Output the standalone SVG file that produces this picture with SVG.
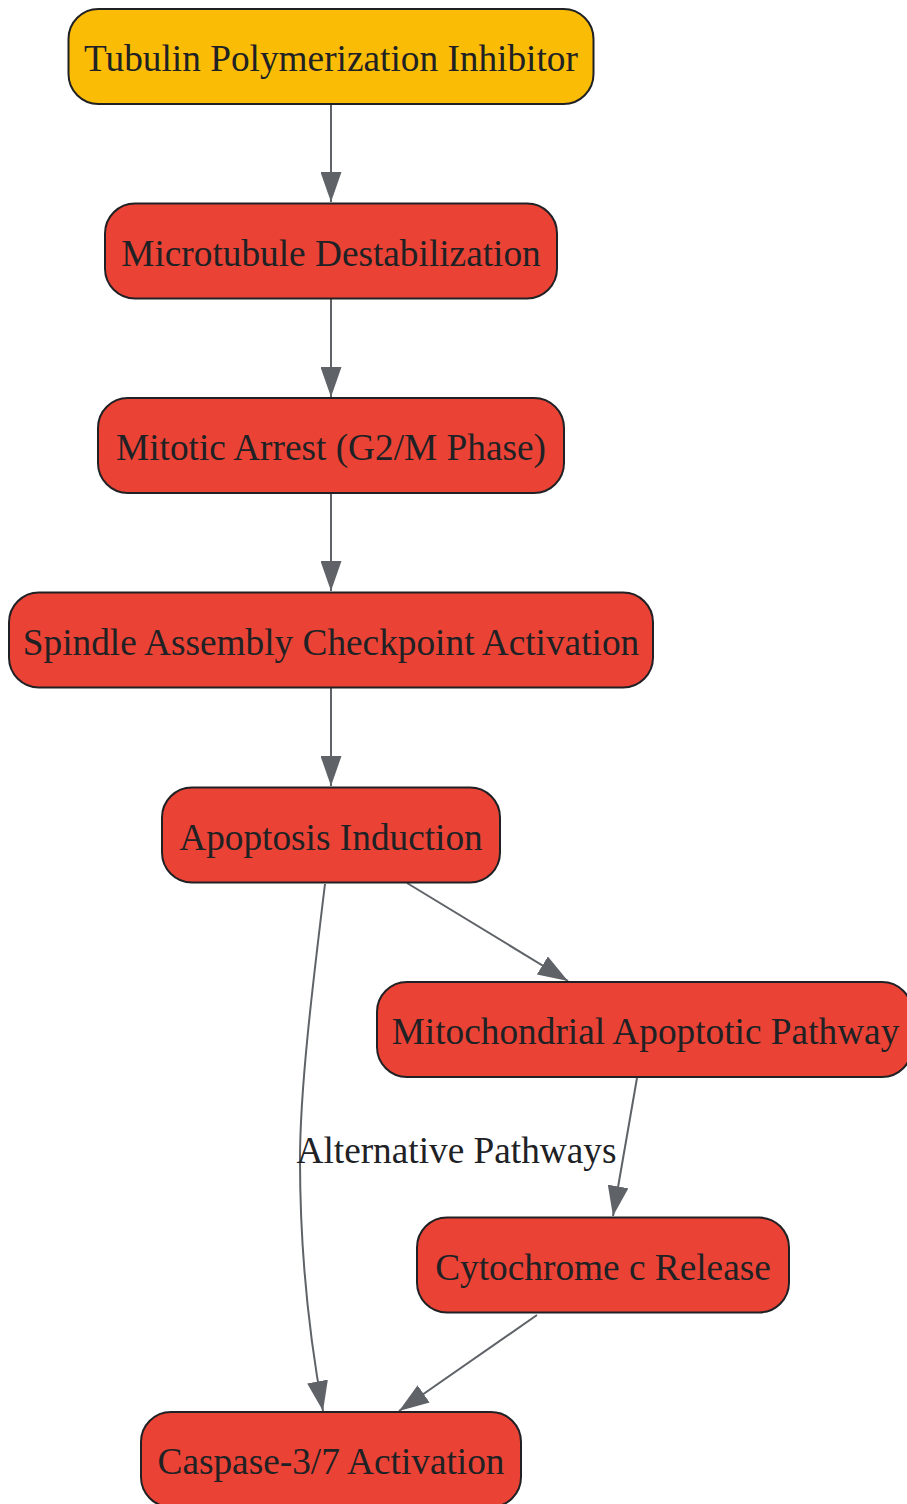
<svg xmlns="http://www.w3.org/2000/svg" width="907" height="1504" viewBox="0 0 907 1504">
<style>
.node rect{stroke:#202124;stroke-width:2}
.red rect{fill:#EA4335}
.yellow rect{fill:#FBBC05}
text{font-family:"Liberation Serif","Times New Roman",serif;font-size:37.3px;fill:#202124;text-anchor:middle}
.edge{fill:none;stroke:#5F6368;stroke-width:2;marker-end:url(#arr)}
</style>
<defs>
<marker id="arr" markerUnits="userSpaceOnUse" markerWidth="30" markerHeight="21" refX="30" refY="10.5" orient="auto">
<path d="M0,0 L30,10.5 L0,21 z" fill="#5F6368"/>
</marker>
</defs>
<rect width="907" height="1504" fill="#ffffff"/>
<g id="connectors">
<path class="edge" d="M331,104 L331,202"/>
<path class="edge" d="M331,299 L331,397"/>
<path class="edge" d="M331,494 L331,591"/>
<path class="edge" d="M331,688 L331,786"/>
<path class="edge" d="M407,883 L568,981"/>
<path class="edge" d="M637,1078 L613,1216"/>
<path class="edge" d="M537,1315 L399,1411"/>
<path class="edge" d="M325,884 C312,990 300,1090 300,1160 C300,1250 308,1330 323,1411"/>
<text x="456.5" y="1163">Alternative Pathways</text>
</g>
<g id="n1" class="node yellow"><rect x="68.5" y="9" width="525" height="95" rx="30"/><text x="331" y="71">Tubulin Polymerization Inhibitor</text></g>
<g id="n2" class="node red"><rect x="105" y="203.5" width="452" height="95" rx="30"/><text x="331" y="265.5">Microtubule Destabilization</text></g>
<g id="n3" class="node red"><rect x="98" y="398" width="466" height="95" rx="30"/><text x="331" y="460">Mitotic Arrest (G2/M Phase)</text></g>
<g id="n4" class="node red"><rect x="9" y="592.5" width="644" height="95" rx="30"/><text x="331" y="654.5">Spindle Assembly Checkpoint Activation</text></g>
<g id="n5" class="node red"><rect x="162" y="787.5" width="338" height="95" rx="30"/><text x="331" y="849.5">Apoptosis Induction</text></g>
<g id="n6" class="node red"><rect x="377" y="982" width="535" height="95" rx="30"/><text x="645.5" y="1044">Mitochondrial Apoptotic Pathway</text></g>
<g id="n7" class="node red"><rect x="417" y="1217.5" width="372" height="95" rx="30"/><text x="603" y="1279.5">Cytochrome c Release</text></g>
<g id="n8" class="node red"><rect x="141" y="1412" width="380" height="95" rx="30"/><text x="331" y="1474">Caspase-3/7 Activation</text></g>
</svg>
